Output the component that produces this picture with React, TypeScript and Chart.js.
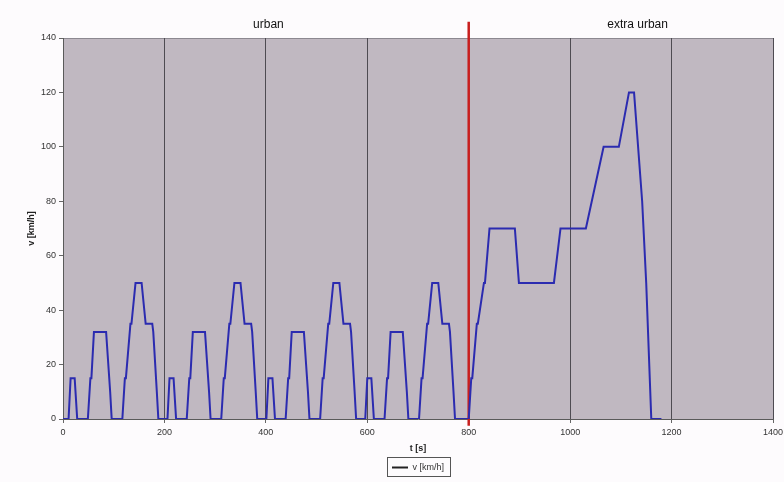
import React, { useEffect, useRef } from 'react';
import { Chart, registerables } from 'chart.js';

Chart.register(...registerables);

// NEDC: four ECE-15 urban cycles followed by the EUDC extra-urban cycle
const TIME_S = [
  0, 11, 15, 23, 28, 49, 54, 56, 61, 85, 93, 96, 117, 122, 124, 133, 135, 143, 155, 163, 176, 178, 185, 188,
  195, 206, 210, 218, 223, 244, 249, 251, 256, 280, 288, 291, 312, 317, 319, 328, 330, 338, 350, 358, 371, 373, 380, 383,
  390, 401, 405, 413, 418, 439, 444, 446, 451, 475, 483, 486, 507, 512, 514, 523, 525, 533, 545, 553, 566, 568, 575, 578,
  585, 596, 600, 608, 613, 634, 639, 641, 646, 670, 678, 681, 702, 707, 709, 718, 720, 728, 740, 748, 761, 763, 770, 773,
  780, 800, 805, 807, 816, 818, 830, 832, 841, 891, 899, 968, 981, 1031, 1066, 1096, 1116, 1126, 1142, 1150, 1160, 1180,
];
const SPEED_KMH = [
  0, 0, 15, 15, 0, 0, 15, 15, 32, 32, 10, 0, 0, 15, 15, 35, 35, 50, 50, 35, 35, 32, 10, 0,
  0, 0, 15, 15, 0, 0, 15, 15, 32, 32, 10, 0, 0, 15, 15, 35, 35, 50, 50, 35, 35, 32, 10, 0,
  0, 0, 15, 15, 0, 0, 15, 15, 32, 32, 10, 0, 0, 15, 15, 35, 35, 50, 50, 35, 35, 32, 10, 0,
  0, 0, 15, 15, 0, 0, 15, 15, 32, 32, 10, 0, 0, 15, 15, 35, 35, 50, 50, 35, 35, 32, 10, 0,
  0, 0, 15, 15, 35, 35, 50, 50, 70, 70, 50, 50, 70, 70, 100, 100, 120, 120, 80, 50, 0, 0,
];

const X_TICKS = [0, 200, 400, 600, 800, 1000, 1200, 1400];
const BOUNDARY_T = 800;
const BOUNDARY_V = [-2.5, 146];
const PHASE_NAMES = ['urban', 'extra urban'];
const PHASE_CENTER_T = [405, 1133];

const SERIES_LABEL = 'v [km/h]';
const X_TITLE = 't [s]';
const Y_TITLE = 'v [km/h]';

const FONT = 'Arial, "Liberation Sans", sans-serif';

const bgPlugin = {
  id: 'bgPlugin',
  beforeDraw(chart: any) {
    const { ctx, chartArea: a } = chart;
    ctx.save();
    ctx.fillStyle = '#fdfbfd';
    ctx.fillRect(0, 0, chart.width, chart.height);
    ctx.fillStyle = '#c0b8c1';
    ctx.fillRect(a.left, a.top, a.right - a.left, a.bottom - a.top);
    ctx.strokeStyle = '#8c8890';
    ctx.lineWidth = 1;
    ctx.beginPath();
    ctx.moveTo(a.left, a.top + 0.5);
    ctx.lineTo(a.right, a.top + 0.5);
    ctx.stroke();
    ctx.restore();
  },
  afterDraw(chart: any) {
    const { ctx } = chart;
    const xs = chart.scales.x;
    ctx.save();
    ctx.fillStyle = '#111';
    ctx.font = `12px ${FONT}`;
    ctx.textAlign = 'center';
    ctx.textBaseline = 'middle';
    PHASE_NAMES.forEach((n, i) => {
      ctx.fillText(n, xs.getPixelForValue(PHASE_CENTER_T[i]), 25);
    });
    // legend border
    const lg = chart.legend;
    if (lg && lg.legendHitBoxes && lg.legendHitBoxes.length) {
      const h = lg.legendHitBoxes[0];
      ctx.strokeStyle = '#555';
      ctx.lineWidth = 1;
      ctx.strokeRect(Math.round(h.left) - 4.5, Math.round(h.top) - 5.5, Math.round(h.width) + 11, Math.round(h.height) + 10);
    }
    ctx.restore();
  },
};

export default function App() {
  const ref = useRef<HTMLCanvasElement>(null);
  useEffect(() => {
    if (!ref.current) return;
    const chart = new Chart(ref.current, {
      type: 'line',
      data: {
        datasets: [
          {
            label: SERIES_LABEL,
            data: TIME_S.map((t, i) => ({ x: t, y: SPEED_KMH[i] })),
            borderColor: '#2b2bb0',
            borderWidth: 2,
            pointRadius: 0,
            tension: 0,
            pointStyle: 'line',
          },
          {
            label: 'boundary',
            data: BOUNDARY_V.map((v) => ({ x: BOUNDARY_T, y: v })),
            borderColor: '#c81e1e',
            borderWidth: 2.5,
            pointRadius: 0,
            clip: false as any,
          },
        ],
      },
      options: {
        animation: false,
        responsive: true,
        maintainAspectRatio: false,
        layout: { padding: { left: 0, right: 0, top: 38, bottom: 0 } },
        plugins: {
          legend: {
            position: 'bottom',
            fullSize: false,
            labels: {
              filter: (item: any) => item.datasetIndex === 0,
              generateLabels: (chart: any) => {
                const items = Chart.defaults.plugins.legend.labels.generateLabels(chart);
                return items.map((it: any) => ({ ...it, strokeStyle: '#222', fillStyle: '#222' }));
              },
              usePointStyle: true,
              pointStyle: 'line',
              pointStyleWidth: 16,
              padding: 8,
              color: '#333',
              font: { size: 9, family: FONT },
            },
          },
          tooltip: { enabled: false },
        },
        scales: {
          x: {
            type: 'linear',
            min: 0,
            max: 1400,
            afterFit: (s: any) => { s.height = 36; s.paddingRight = 11; },
            afterBuildTicks: (s: any) => {
              s.ticks = X_TICKS.map((v) => ({ value: v }));
            },
            ticks: { color: '#333', font: { size: 9, family: FONT }, padding: 4, maxRotation: 0, callback: (v: any) => String(v) },
            grid: { color: '#4e4b52', lineWidth: 1, drawTicks: true, tickLength: 4, tickColor: '#666' },
            border: { display: true, color: '#5a5a5a' },
            title: { display: true, text: X_TITLE, color: '#222', font: { size: 9, weight: 'bold', family: FONT }, padding: { top: 2, bottom: 1 } },
          },
          y: {
            type: 'linear',
            min: 0,
            max: 140,
            afterFit: (s: any) => { s.width = 63; },
            ticks: { stepSize: 20, color: '#333', font: { size: 9, family: FONT }, padding: 3, callback: (v: any) => String(v) },
            grid: { drawOnChartArea: false, drawTicks: true, tickLength: 4, tickColor: '#666' },
            border: { display: true, color: '#5a5a5a' },
            title: { display: true, text: Y_TITLE, color: '#222', font: { size: 9, weight: 'bold', family: FONT }, padding: { top: 26, bottom: 0 } },
          },
        },
      },
      plugins: [bgPlugin],
    });
    return () => chart.destroy();
  }, []);
  return (
    <div style={{ position: 'absolute', left: 0, top: 0, width: 784, height: 482 }}>
      <canvas ref={ref} />
    </div>
  );
}
